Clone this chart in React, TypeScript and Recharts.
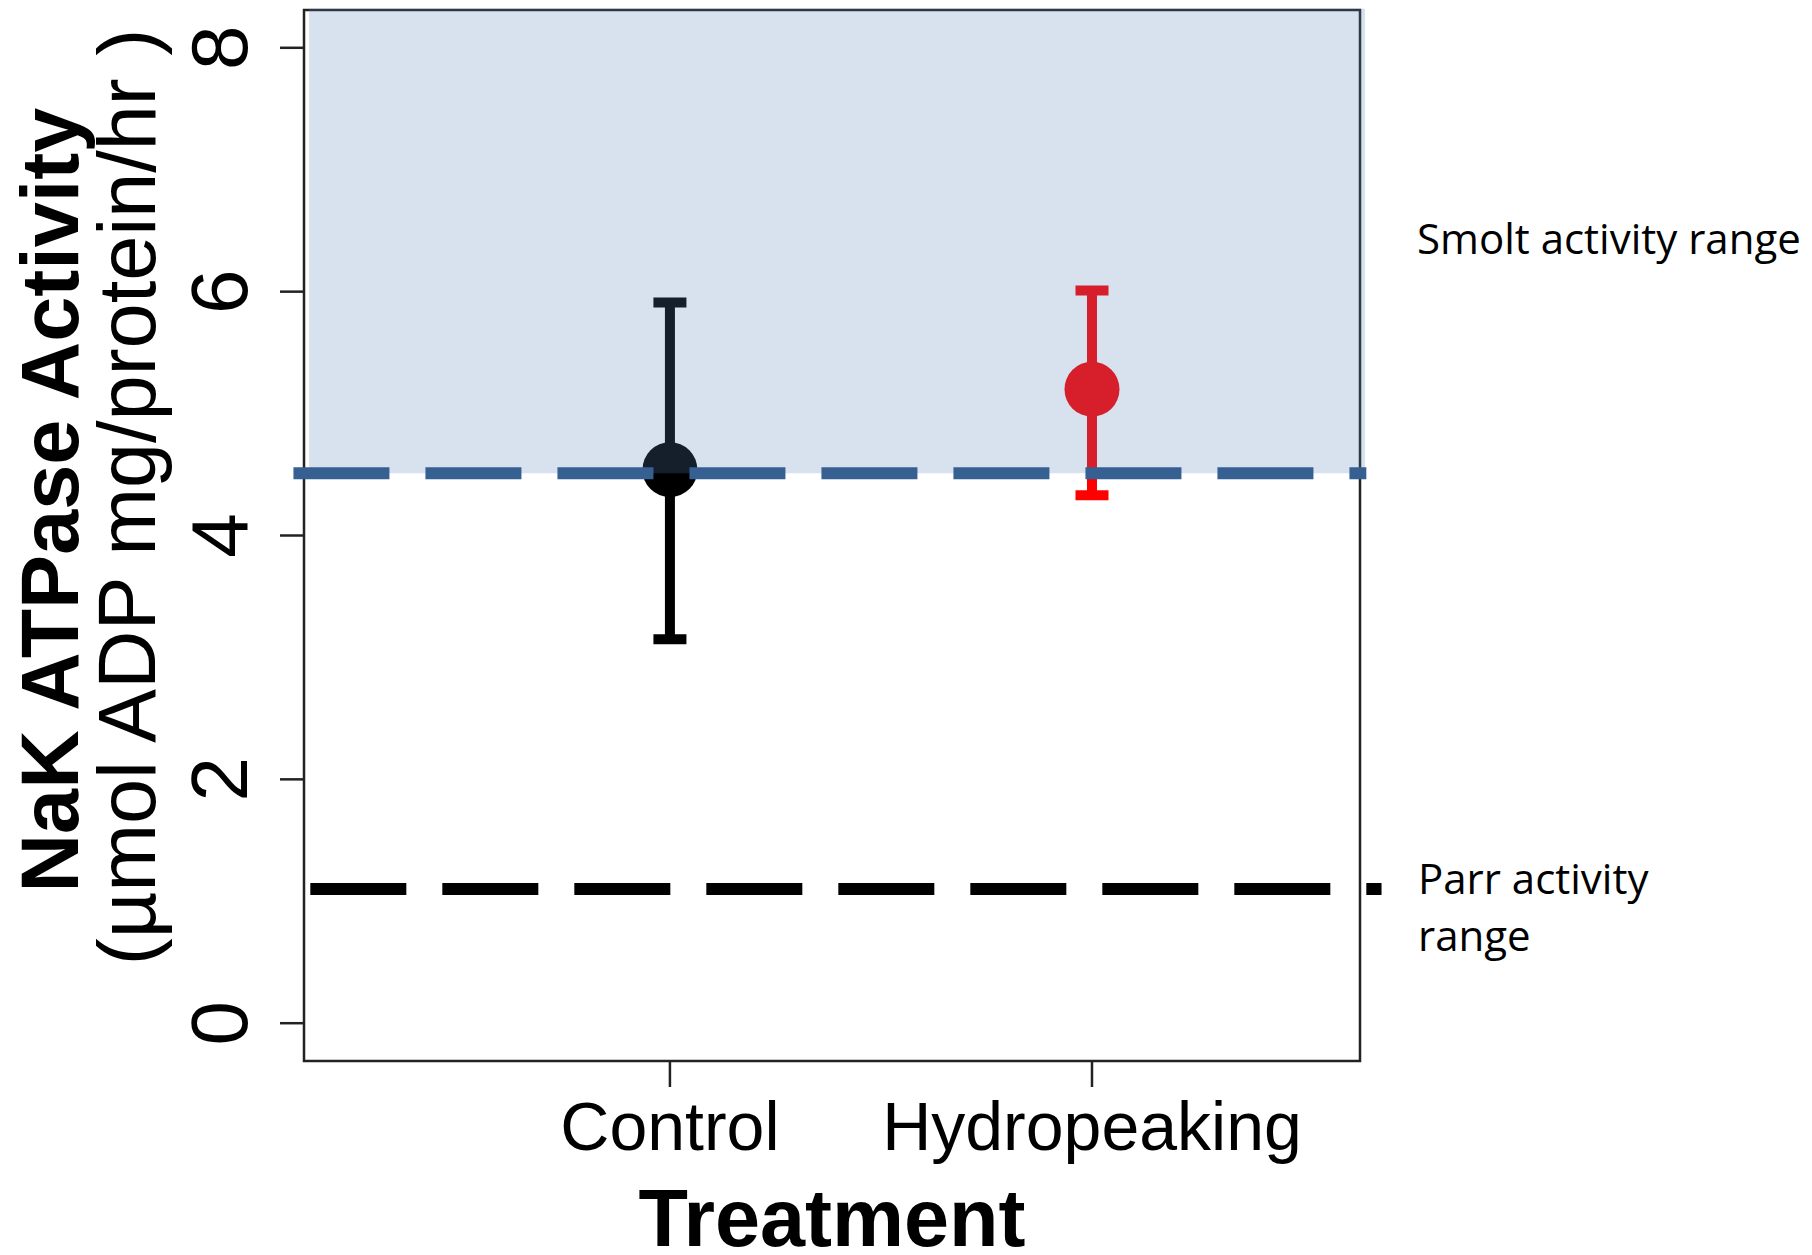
import { ComposedChart, Scatter, ErrorBar, XAxis, YAxis, ReferenceArea, ReferenceLine } from "recharts"

// values
const treatments = ["Control", "Hydropeaking"]
const treatmentPos = [1, 2]
const meanActivity = [4.54, 5.2]
const lowerCI = [3.15, 4.33]
const upperCI = [5.91, 6.01]
const pointColors = ["#000000", "#ff0000"]
const yTicks = [0, 2, 4, 6, 8]
const smoltThreshold = 4.51
const parrLevel = 1.1

const X_DOMAIN: [number, number] = [0.133, 2.635]
const Y_DOMAIN: [number, number] = [-0.31, 8.31]

const FONT = "'Liberation Sans', Arial, sans-serif"
const NOTE_FONT = "'Open Sans', 'Liberation Sans', sans-serif"

const series = treatments.map((name, i) => ({
  name,
  color: pointColors[i],
  data: [
    {
      x: treatmentPos[i],
      y: meanActivity[i],
      err: [meanActivity[i] - lowerCI[i], upperCI[i] - meanActivity[i]],
    },
  ],
}))

const YTick = (props: any) => {
  const { x, y, payload } = props
  return (
    <text x={x} y={y} transform={`rotate(-90, ${x}, ${y})`} textAnchor="middle" fontSize={80} fontFamily={FONT} fill="#000">
      {payload.value}
    </text>
  )
}

const XTick = (props: any) => {
  const { x, y, payload } = props
  const idx = treatmentPos.indexOf(payload.value)
  return (
    <text x={x} y={y} dy={63} textAnchor="middle" fontSize={68} fontFamily={FONT} fill="#000">
      {treatments[idx] ?? ""}
    </text>
  )
}

const YTitle = (props: any) => {
  const vb = props.viewBox ?? { x: 0, y: 10, width: 304, height: 1051 }
  const cy1 = vb.y + 490
  const cy2 = vb.y + 487
  return (
    <g>
      <text x={vb.x + 78} y={cy1} transform={`rotate(-90, ${vb.x + 78}, ${cy1})`} textAnchor="middle" fontSize={81} fontWeight="bold" fontFamily={FONT} fill="#000">
        NaK ATPase Activity
      </text>
      <text x={vb.x + 155} y={cy2} transform={`rotate(-90, ${vb.x + 155}, ${cy2})`} textAnchor="middle" fontSize={81} fontFamily={FONT} fill="#000">
        (µmol ADP mg/protein/hr )
      </text>
    </g>
  )
}

const XTitle = (props: any) => {
  const vb = props.viewBox ?? { x: 304, y: 1061, width: 1056, height: 194 }
  return (
    <text x={vb.x + vb.width / 2} y={vb.y + 185} textAnchor="middle" fontSize={81} fontWeight="bold" fontFamily={FONT} fill="#000">
      Treatment
    </text>
  )
}

export default function App() {
  return (
    <div style={{ position: "absolute", left: 0, top: 0, width: 1812, height: 1255, background: "#fff" }}>
      <ComposedChart width={1812} height={1255} margin={{ top: 10, right: 452, left: 0, bottom: 0 }}>
        <XAxis
          type="number"
          dataKey="x"
          domain={X_DOMAIN}
          ticks={treatmentPos}
          allowDataOverflow
          axisLine={false}
          tickLine={{ stroke: "#222", strokeWidth: 2.5 }}
          tickSize={26}
          tickMargin={0}
          tick={<XTick />}
          height={194}
          label={{ content: (p: any) => <XTitle {...p} /> }}
        />
        <YAxis
          type="number"
          domain={Y_DOMAIN}
          ticks={yTicks}
          allowDataOverflow
          axisLine={false}
          tickLine={{ stroke: "#222", strokeWidth: 2.5 }}
          tickSize={24}
          tickMargin={33}
          tick={<YTick />}
          width={304}
          label={{ content: (p: any) => <YTitle {...p} /> }}
        />
        {series.map((s) => (
          <Scatter
            key={s.name}
            name={s.name}
            data={s.data}
            dataKey="y"
            fill={s.color}
            isAnimationActive={false}
            zIndex={600}
            shape={(p: any) => <circle cx={p.cx} cy={p.cy} r={27.5} fill={s.color} />}
          >
            <ErrorBar dataKey="err" direction="y" width={16.5} strokeWidth={10} stroke={s.color} zIndex={600} />
          </Scatter>
        ))}
        {/* plot frame */}
        <ReferenceArea
          x1={X_DOMAIN[0]}
          x2={X_DOMAIN[1]}
          y1={Y_DOMAIN[0]}
          y2={Y_DOMAIN[1]}
          fill="none"
          stroke="#222"
          strokeWidth={2.5}
          ifOverflow="visible"
          zIndex={1400}
        />
        {/* smolt range overlay */}
        <ReferenceArea
          x1={0.145}
          x2={2.647}
          y1={smoltThreshold}
          y2={8.32}
          fill="rgb(85,130,184)"
          fillOpacity={0.235}
          stroke="none"
          ifOverflow="visible"
          zIndex={1500}
        />
        <ReferenceLine
          segment={[
            { x: 0.108, y: smoltThreshold },
            { x: 2.65, y: smoltThreshold },
          ]}
          stroke="#376092"
          strokeWidth={12}
          strokeDasharray="96 36"
          ifOverflow="visible"
          zIndex={1600}
        />
        <ReferenceLine
          segment={[
            { x: 0.148, y: parrLevel },
            { x: 2.686, y: parrLevel },
          ]}
          stroke="#000"
          strokeWidth={12}
          strokeDasharray="96 36"
          ifOverflow="visible"
          zIndex={1600}
        />
      </ComposedChart>
      <svg width={1812} height={1255} style={{ position: "absolute", left: 0, top: 0, pointerEvents: "none" }}>
        <text x={1417} y={254} fontSize={42} fontFamily={NOTE_FONT} fill="#000">
          Smolt activity range
        </text>
        <text x={1418} y={894} fontSize={42} fontFamily={NOTE_FONT} fill="#000">
          Parr activity
        </text>
        <text x={1418} y={951} fontSize={42} fontFamily={NOTE_FONT} fill="#000">
          range
        </text>
      </svg>
    </div>
  )
}
